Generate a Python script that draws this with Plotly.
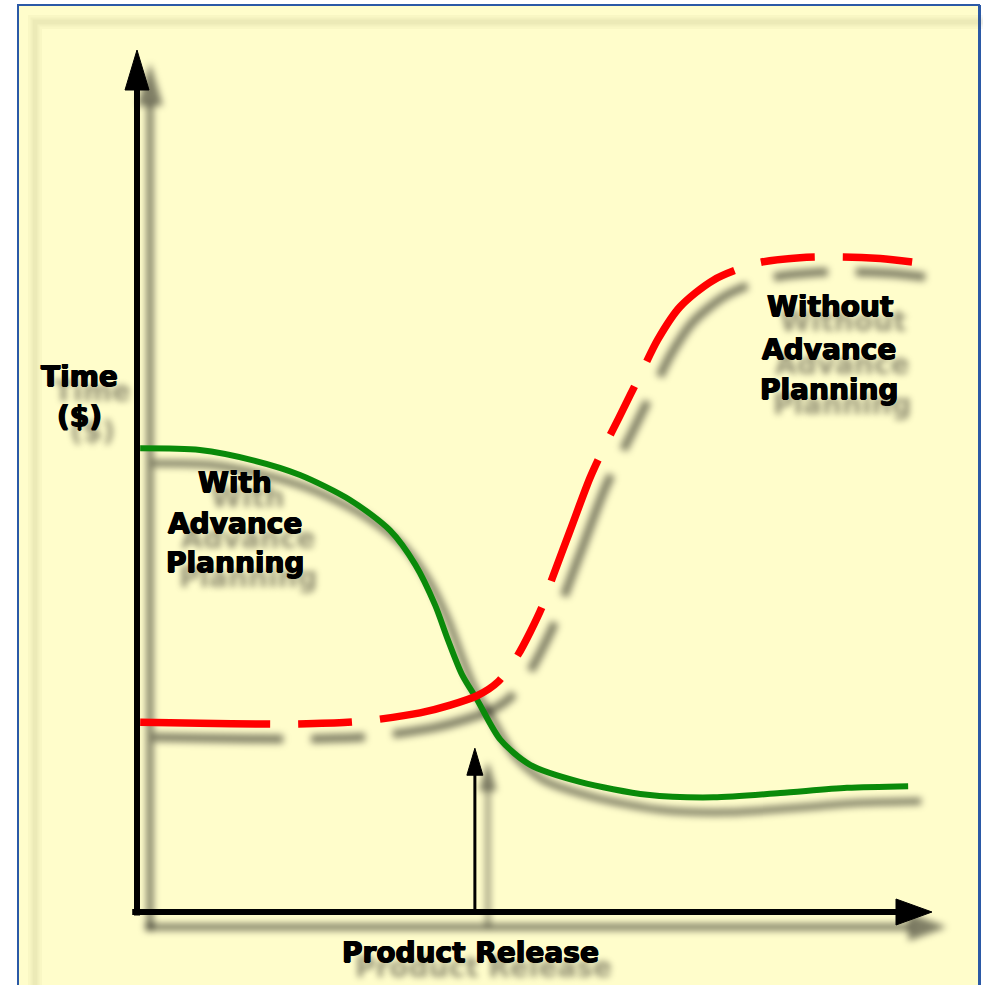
import plotly.graph_objects as go

# ---- data: elapsed time (0-100 along the horizontal axis) vs. cost (0-100 up the vertical axis)
with_x = [0.4, 7.9, 14.6, 20.5, 26.8, 31.8, 35.0, 37.5, 39.1, 40.9, 42.8, 45.7,
          49.4, 55.7, 64.2, 72.5, 80.9, 89.3, 97.0]
with_y = [53.8, 53.6, 52.4, 50.7, 47.8, 44.3, 40.3, 35.6, 31.6, 27.5, 24.6, 20.0,
          17.1, 15.1, 13.6, 13.3, 13.8, 14.4, 14.6]

without_x = [0.4, 7.9, 16.4, 19.6, 26.5, 29.9, 35.6, 39.4, 42.8, 45.4, 47.9, 50.9,
             52.3, 54.5, 57.0, 58.7, 60.6, 63.5, 65.5, 68.3, 72.5, 78.1, 83.4,
             88.7, 93.5, 97.5]
without_y = [22.0, 21.9, 21.8, 21.8, 22.0, 22.3, 23.1, 24.0, 25.1, 26.7, 29.8, 35.3,
             38.9, 44.3, 50.4, 53.8, 57.3, 62.7, 66.4, 70.2, 73.3, 75.3, 75.9,
             76.0, 75.8, 75.4]

RELEASE_X = 42.5          # product release moment
RELEASE_ARROW_TOP = 19.0  # height reached by the release marker
AXIS_END = 100

labels = [
    ("Time", -7.2, 62.1), ("($)", -7.2, 57.5),
    ("With", 12.3, 49.8), ("Advance", 12.3, 45.1), ("Planning", 12.3, 40.6),
    ("Without", 87.2, 70.2), ("Advance", 87.0, 65.2), ("Planning", 87.0, 60.6),
    ("Product Release", 41.9, -4.7),
]

# ---- page geometry (pixels)
W, H = 983, 985
OX, OY = 137, 912          # where the origin sits on the page
SX, SY = 7.95, 8.62        # pixels per data unit
SHADOW_DX, SHADOW_DY = 13, 15

x_range = [-OX / SX, (W - OX) / SX]
y_range = [-(H - OY) / SY, OY / SY]
# shadow axes are shifted so the same data land down and to the right
xs_range = [v - SHADOW_DX / SX for v in x_range]
ys_range = [v + SHADOW_DY / SY for v in y_range]

FONT = "DejaVu Sans"
SHADOW = "rgba(0,0,0,0.5)"

fig = go.Figure()


def add_line(xs, ys, color, width, dash="solid"):
    # shadow stroke on the shifted axes (softened after render)
    fig.add_trace(go.Scatter(
        x=xs, y=ys, mode="lines", xaxis="x", yaxis="y",
        line=dict(color=SHADOW, width=width + 1, dash=dash, shape="spline", smoothing=0.8),
        hoverinfo="skip", showlegend=False))
    fig.add_trace(go.Scatter(
        x=xs, y=ys, mode="lines", xaxis="x2", yaxis="y2",
        line=dict(color=color, width=width, dash=dash, shape="spline", smoothing=0.8),
        hoverinfo="skip", showlegend=False))


def add_head(xs, ys):
    fig.add_trace(go.Scatter(
        x=xs, y=ys, mode="lines", fill="toself", xaxis="x", yaxis="y",
        fillcolor=SHADOW, line=dict(color=SHADOW, width=1),
        hoverinfo="skip", showlegend=False))
    fig.add_trace(go.Scatter(
        x=xs, y=ys, mode="lines", fill="toself", xaxis="x2", yaxis="y2",
        fillcolor="black", line=dict(color="black", width=1),
        hoverinfo="skip", showlegend=False))


# vertical axis with arrowhead
head_len_y, head_half_y = 40 / SY, 12 / SX
add_line([0, 0], [-0.4, AXIS_END - head_len_y + 0.2], "black", 6)
add_head([-head_half_y, head_half_y, 0, -head_half_y],
         [AXIS_END - head_len_y, AXIS_END - head_len_y, AXIS_END, AXIS_END - head_len_y])

# horizontal axis with arrowhead
head_len_x, head_half_x = 36 / SX, 13 / SY
add_line([-0.6, AXIS_END - head_len_x + 0.2], [0, 0], "black", 6)
add_head([AXIS_END - head_len_x, AXIS_END - head_len_x, AXIS_END, AXIS_END - head_len_x],
         [-head_half_x, head_half_x, 0, -head_half_x])

# product release marker
rel_len, rel_half = 27 / SY, 8 / SX
add_line([RELEASE_X, RELEASE_X], [0, RELEASE_ARROW_TOP - rel_len + 0.2], "black", 3)
add_head([RELEASE_X - rel_half, RELEASE_X + rel_half, RELEASE_X, RELEASE_X - rel_half],
         [RELEASE_ARROW_TOP - rel_len, RELEASE_ARROW_TOP - rel_len, RELEASE_ARROW_TOP,
          RELEASE_ARROW_TOP - rel_len])

# cost curves
add_line(with_x, with_y, "#0A8A0A", 6)
add_line(without_x, without_y, "#FF0000", 7.5, dash="130px,28px,54px,28px")

# heavy text with a soft drop shadow
text_shadow = ("0.7px 0 0 black, -0.7px 0 0 black, 0 0.5px 0 black, "
               f"{SHADOW_DX}px {SHADOW_DY}px 6px rgba(0,0,0,0.42)")
annotations = [
    dict(text=text, x=lx, y=ly, xref="x2", yref="y2", showarrow=False,
         font=dict(family=FONT, size=28, color="black", weight="bold", shadow=text_shadow))
    for text, lx, ly in labels
]

# panel: pale yellow card with blue edge and a soft inner shadow frame
shapes = [
    dict(type="rect", xref="paper", yref="paper", layer="below",
         x0=18 / W, x1=979 / W, y0=-0.05, y1=1 - 5 / H,
         fillcolor="#FFFDCB", line=dict(color="#2B59A6", width=2)),
    dict(type="line", xref="paper", yref="paper", layer="below",
         x0=979.5 / W, x1=979.5 / W, y0=-0.05, y1=1 - 5 / H,
         line=dict(color="#2B59A6", width=3)),
]
for width, alpha in [(14, 0.035), (9, 0.04), (5, 0.045)]:
    shapes.append(dict(
        type="rect", xref="paper", yref="paper", layer="below",
        x0=35 / W, x1=1.05, y0=-0.1, y1=1 - 22 / H,
        line=dict(color=f"rgba(90,90,40,{alpha})", width=width),
        fillcolor="rgba(0,0,0,0)"))

axis_common = dict(visible=False, showgrid=False, zeroline=False, fixedrange=True)
fig.update_layout(
    width=W, height=H,
    margin=dict(l=0, r=0, t=0, b=0, pad=0),
    paper_bgcolor="white", plot_bgcolor="rgba(0,0,0,0)",
    showlegend=False,
    xaxis=dict(range=xs_range, domain=[0, 1], **axis_common),
    yaxis=dict(range=ys_range, domain=[0, 1], **axis_common),
    xaxis2=dict(range=x_range, overlaying="x", **axis_common),
    yaxis2=dict(range=y_range, overlaying="y", **axis_common),
    annotations=annotations,
    shapes=shapes,
)

# soften the shadow layer with a gaussian blur once the plot is drawn
blur_js = """
(function () {
  var gd = document.getElementById('{plot_id}');
  var NS = 'http://www.w3.org/2000/svg';
  var svg = gd.querySelector('svg.main-svg');
  if (!document.getElementById('soft-shadow')) {
    var defs = svg.querySelector('defs');
    if (!defs) { defs = document.createElementNS(NS, 'defs'); svg.insertBefore(defs, svg.firstChild); }
    var f = document.createElementNS(NS, 'filter');
    f.setAttribute('id', 'soft-shadow');
    f.setAttribute('filterUnits', 'userSpaceOnUse');
    f.setAttribute('x', '-500'); f.setAttribute('y', '-500');
    f.setAttribute('width', '2500'); f.setAttribute('height', '2500');
    var b = document.createElementNS(NS, 'feGaussianBlur');
    b.setAttribute('stdDeviation', '3.5');
    f.appendChild(b); defs.appendChild(f);
  }
  gd.querySelectorAll('.overplot > .xy .scatterlayer').forEach(function (el) {
    el.setAttribute('filter', 'url(#soft-shadow)');
  });
})();
"""

fig.write_html("out.html", post_script=blur_js)
